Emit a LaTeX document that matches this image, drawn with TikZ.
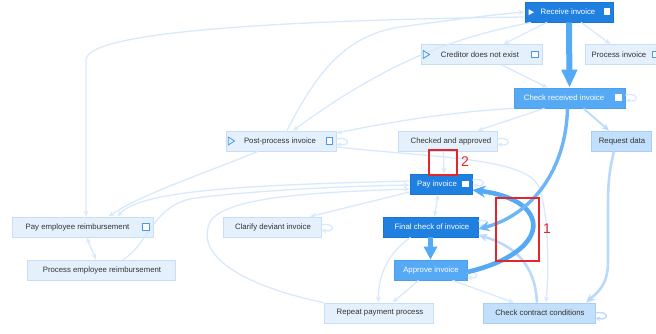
\documentclass[tikz,border=0pt]{standalone}
\usepackage{fontspec}
\setmainfont{Liberation Sans}
\usetikzlibrary{arrows.meta}

\definecolor{nodedark}{HTML}{1F80E0}
\definecolor{nodedarkline}{HTML}{1A75D2}
\definecolor{nodemid}{HTML}{55A9F5}
\definecolor{nodemidline}{HTML}{4C9FEC}
\definecolor{nodepale}{HTML}{C2DFFB}
\definecolor{nodepaleline}{HTML}{A6CEF6}
\definecolor{nodelight}{HTML}{E4F1FD}
\definecolor{nodelightline}{HTML}{C6DEF8}
\definecolor{textdark}{HTML}{333333}
\definecolor{iconblue}{HTML}{4A98EE}
\definecolor{edgefaint}{HTML}{D8E9FC}
\definecolor{edgepale}{HTML}{B9DAFA}
\definecolor{edgemid}{HTML}{6CB5F8}
\definecolor{edgestrong}{HTML}{55AAF6}
\definecolor{annored}{HTML}{E3262B}

\begin{document}
\begin{tikzpicture}[x=1pt,y=-1pt,
  font=\fontsize{7.8}{9}\selectfont,
  box/.style={rectangle, minimum height=20pt, inner sep=0pt, line width=0.8pt},
  darkbox/.style={box, fill=nodedark, draw=nodedarkline},
  midbox/.style={box, fill=nodemid, draw=nodemidline},
  palebox/.style={box, fill=nodepale, draw=nodepaleline},
  lightbox/.style={box, fill=nodelight, draw=nodelightline},
  wlabel/.style={text=white, inner sep=0pt},
  dlabel/.style={text=textdark, inner sep=0pt},
  wsq/.style={rectangle, fill=white, minimum size=6.5pt, inner sep=0pt},
  bsq/.style={rectangle, draw=iconblue, fill=white, line width=0.8pt, minimum size=6.5pt, inner sep=0pt},
  faint/.style={draw=edgefaint, line width=1.3pt, -{Stealth[length=6pt,width=5pt]}},
  faintboth/.style={draw=edgefaint, line width=1.3pt, {Stealth[length=6pt,width=5pt]}-{Stealth[length=6pt,width=5pt]}},
  pale/.style={draw=edgepale, line width=2.6pt, -{Stealth[length=9pt,width=8pt]}},
  paleloop/.style={draw=edgepale, line width=1.3pt, -{Stealth[length=5pt,width=4.5pt]}},
  faintloop/.style={draw=edgefaint, line width=1.3pt, -{Stealth[length=5pt,width=4.5pt]}},
  midedge/.style={draw=edgemid, line width=3.4pt, -{Stealth[length=11pt,width=10pt]}},
  strong/.style={draw=edgestrong, line width=4.6pt, -{Stealth[length=13pt,width=12pt]}},
  heavy/.style={draw=edgestrong, line width=6pt, -{Triangle[length=18pt,width=15pt]}},
  annobox/.style={rectangle, draw=annored, line width=1.4pt, inner sep=0pt},
  annonum/.style={text=annored, inner sep=0pt, font=\fontsize{14}{14}\selectfont}
]
\useasboundingbox (0,0) rectangle (656,334);
\clip (0,0) rectangle (656,334);

% ---- activity boxes ----
\node[darkbox,  minimum width=88pt]  (recv)    at (569,12)    {};
\node[lightbox, minimum width=121pt] (cred)    at (481.5,54.5) {};
\node[lightbox, minimum width=85pt]  (proc)    at (627.5,54.5) {};
\node[midbox,   minimum width=111pt] (chk)     at (569.5,98)  {};
\node[lightbox, minimum width=110pt] (post)    at (281,141)   {};
\node[lightbox, minimum width=99pt]  (capp)    at (447.5,141) {};
\node[palebox,  minimum width=60pt]  (req)     at (621,141)   {};
\node[darkbox,  minimum width=62pt]  (pay)     at (441,184)   {};
\node[lightbox, minimum width=141pt] (payemp)  at (82.5,227)  {};
\node[lightbox, minimum width=98pt]  (clar)    at (272,227)   {};
\node[darkbox,  minimum width=95pt]  (fin)     at (430.5,227) {};
\node[lightbox, minimum width=148pt] (procemp) at (101,270)   {};
\node[midbox,   minimum width=73pt]  (appr)    at (430.5,270) {};
\node[lightbox, minimum width=109pt] (rep)     at (378.5,313) {};
\node[palebox,  minimum width=112pt] (ccc)     at (539,313)   {};

% ---- faint transitions ----
\draw[faint] ([yshift=-5pt]recv.west) .. controls (300,20) and (86,30) .. (86,60)
  -- ([xshift=3.5pt]payemp.north);
\draw[faint] ([xshift=6pt]post.north) .. controls (320,65) and (350,35) .. (400,27)
  .. controls (450,20) and (500,14) .. (recv.west);
\draw[faint] ([xshift=-38pt]recv.south) .. controls (470,35) and (400,52) .. ([xshift=12pt]post.north);
\draw[faint] ([xshift=-22pt]recv.south) -- ([xshift=22pt]cred.north);
\draw[faint] ([xshift=12pt]recv.south) -- ([xshift=-17pt]proc.north);
\draw[faint] ([xshift=20pt]cred.south) -- ([xshift=-22pt]chk.north);
\draw[faint] (chk.south west) .. controls (450,112) and (390,122) .. ([yshift=8pt]post.east);
\draw[faint] ([xshift=-25pt]chk.south) -- ([xshift=30pt]capp.north);
\draw[faint] ([xshift=-4pt]capp.south) -- ([xshift=3pt]pay.north);
\draw[faint] ([yshift=-6pt]post.east) .. controls (440,158) and (522,158) .. (538,185)
  .. controls (549,210) and (549,270) .. ([xshift=7pt]ccc.north);
\draw[faint] ([xshift=-23pt]post.south) .. controls (200,175) and (140,195) .. ([xshift=26pt]payemp.north);
\draw[faint] ([yshift=3pt]pay.west) .. controls (250,185) and (140,190) .. ([xshift=35pt]payemp.north);
\draw[faint] ([xshift=22pt]procemp.north) .. controls (150,243) and (152,205) .. (195,198)
  .. controls (260,190) and (350,186) .. ([yshift=-1pt]pay.west);
\draw[faint] ([yshift=-8pt]pay.west) -- ([xshift=38pt]clar.north);
\draw[faint] (rep.north west) .. controls (240,285) and (195,255) .. (210,222)
  .. controls (225,195) and (330,192) .. ([yshift=-5pt]pay.west);
\draw[faintboth] ([xshift=4pt]payemp.south) -- ([xshift=-5pt]procemp.north);
\draw[faintboth] ([xshift=-3pt]pay.south) -- ([xshift=4pt]fin.north);
\draw[faint] ([xshift=-20pt]fin.south) .. controls (385,255) and (378,280) .. (rep.north);
\draw[faint] ([xshift=-12pt]appr.south) -- ([xshift=14pt]rep.north);
\draw[faint] ([xshift=22pt]appr.south) -- ([xshift=-25pt]ccc.north);

% ---- self loops ----
\draw[faintloop] ([yshift=2pt]post.east) .. controls +(14,-3) and +(14,3) .. ([yshift=-3pt]post.east);
\draw[faintloop] ([yshift=2pt]capp.east) .. controls +(14,-3) and +(14,3) .. ([yshift=-3pt]capp.east);
\draw[faintloop] ([yshift=3pt]chk.east) .. controls +(14,-3) and +(14,3) .. ([yshift=-2pt]chk.east);
\draw[faintloop] ([yshift=4pt]pay.east) .. controls +(14,-3) and +(14,3) .. ([yshift=-1pt]pay.east);
\draw[faintloop] ([yshift=2pt]clar.east) .. controls +(14,-3) and +(14,3) .. ([yshift=-3pt]clar.east);
\draw[faintloop] ([yshift=-3pt]appr.east) .. controls +(12,-3) and +(12,3) .. ([yshift=-7pt]appr.east);
\draw[faintloop] ([yshift=6pt]fin.east) .. controls +(12,-3) and +(12,3) .. ([yshift=2pt]fin.east);
\draw[paleloop] ([yshift=0pt]ccc.east) .. controls +(14,-3) and +(14,3) .. ([yshift=-5pt]ccc.east);

% ---- stronger transitions ----
\draw[pale, line width=1.8pt, -{Stealth[length=7pt,width=6pt]}] ([xshift=14pt]chk.south) -- ([xshift=-12pt]req.north);
\draw[pale] ([xshift=-7pt]req.south) .. controls (608,175) and (608,190) .. (608,210)
  -- (608,262) .. controls (608,285) and (597,293) .. ([xshift=47pt]ccc.north);
\draw[pale] ([xshift=-2pt]ccc.north) .. controls (535,262) and (512,245) .. ([yshift=-8pt]fin.east);
\draw[strong] ([yshift=-2pt]appr.east) .. controls (553,252) and (553,200) .. ([yshift=-6pt]pay.east);
\draw[midedge] ([xshift=-2pt]chk.south) .. controls (566,170) and (532,215) .. ([yshift=-2pt]fin.east);
\draw[heavy] (recv.south) -- (chk.north);
\draw[heavy, line width=5pt, -{Triangle[length=13pt,width=13pt]}] (fin.south) -- (appr.north);

% ---- labels ----
\node[wlabel] (recvtxt)    at (568,12)    {Receive invoice};
\node[dlabel] (credtxt)    at (480,54.5)  {Creditor does not exist};
\node[dlabel] (proctxt)    at (619,54.5)  {Process invoice};
\node[wlabel] (chktxt)     at (564,98)    {Check received invoice};
\node[dlabel] (posttxt)    at (280,141)   {Post-process invoice};
\node[dlabel] (capptxt)    at (451,141)   {Checked and approved};
\node[dlabel] (reqtxt)     at (622,141)   {Request data};
\node[wlabel] (paytxt)     at (437,184)   {Pay invoice};
\node[dlabel] (payemptxt)  at (77.5,227)  {Pay employee reimbursement};
\node[dlabel] (clartxt)    at (273,227)   {Clarify deviant invoice};
\node[wlabel] (fintxt)     at (432,227)   {Final check of invoice};
\node[dlabel] (procemptxt) at (102,270)   {Process employee reimbursement};
\node[wlabel] (apprtxt)    at (431,270)   {Approve invoice};
\node[dlabel] (reptxt)     at (380,313)   {Repeat payment process};
\node[dlabel] (ccctxt)     at (540,313)   {Check contract conditions};

% ---- start markers and subprocess squares ----
\fill[white] (528.5,9.2) -- (534,12.2) -- (528.5,15.2) -- cycle;
\draw[iconblue, line width=0.8pt, line join=round] (423.2,50.5) -- (429.6,54.5) -- (423.2,58.5) -- cycle;
\draw[iconblue, line width=0.8pt, line join=round] (228.2,137) -- (234.6,141) -- (228.2,145) -- cycle;
\node[wsq] (recvsq)   at (607,11.7)  {};
\node[bsq] (credsq)   at (535,54.5)  {};
\node[bsq] (procsq)   at (655.5,54.5) {};
\node[wsq] (chksq)    at (618.3,97.7) {};
\node[bsq] (postsq)   at (329.3,140.8) {};
\node[wsq] (paysq)    at (465.7,183.8) {};
\node[bsq] (payempsq) at (146,227)   {};

% ---- annotation marks ----
\node[annobox, minimum width=43pt, minimum height=63pt] (markone) at (517.5,229.5) {};
\node[annonum] (markonenum) at (547,228.5) {1};
\node[annobox, minimum width=28pt, minimum height=25pt] (marktwo) at (443,162.5) {};
\node[annonum] (marktwonum) at (465,162) {2};
\end{tikzpicture}
\end{document}
